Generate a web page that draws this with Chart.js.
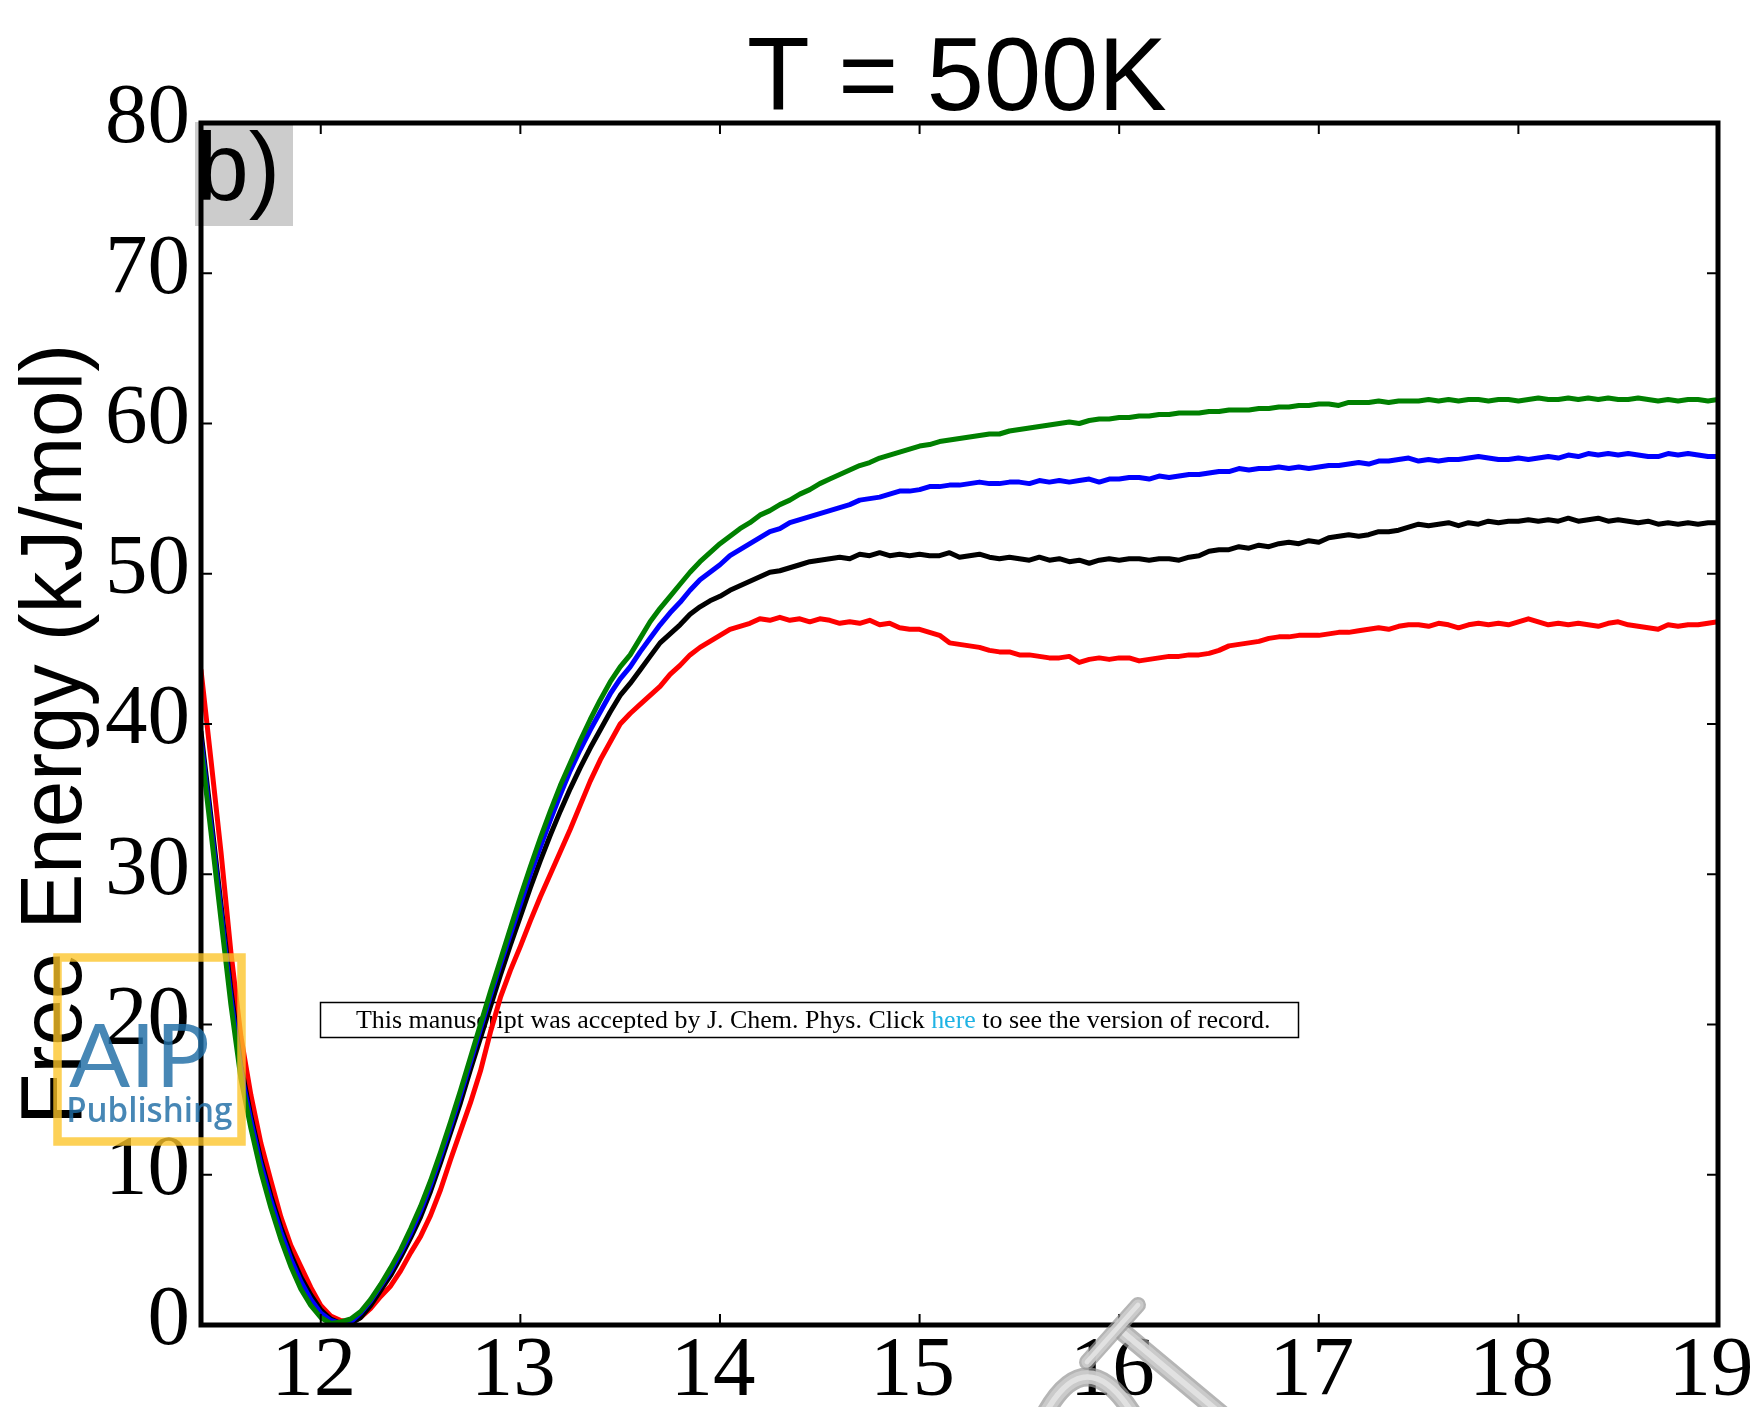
<!DOCTYPE html>
<html>
<head>
<meta charset="utf-8">
<title>Free energy profile, T = 500K</title>
<script src="https://cdn.jsdelivr.net/npm/chart.js@4.4.1/dist/chart.umd.min.js"></script>
<style>
  html, body { margin: 0; padding: 0; background: #ffffff; }
  canvas { display: block; }
</style>
</head>
<body>
<canvas id="fe" width="1753" height="1407"></canvas>
<script>
// Sampling grid of the reaction coordinate: 11.40 .. 19.00 in steps of 0.05
const X_START = 11.4;
const X_STEP = 0.05;

const xTicks = [12, 13, 14, 15, 16, 17, 18, 19];
const yTicks = [0, 10, 20, 30, 40, 50, 60, 70, 80];

// Free energy (kJ/mol) of the four runs, one value per grid point
const greenFE = [
  38.5, 32.8, 27.0, 21.3, 16.4, 13.1, 10.2, 7.8, 5.7, 3.9,
  2.4, 1.3, 0.5, 0.1, 0.2, 0.4, 0.9, 1.7, 2.7, 3.8,
  5.0, 6.4, 7.9, 9.6, 11.5, 13.5, 15.6, 17.8, 20.0, 22.2,
  24.3, 26.4, 28.5, 30.5, 32.4, 34.2, 35.9, 37.4, 38.9, 40.3,
  41.6, 42.8, 43.8, 44.6, 45.7, 46.8, 47.7, 48.5, 49.3, 50.1,
  50.8, 51.4, 52.0, 52.5, 53.0, 53.4, 53.9, 54.2, 54.6, 54.9,
  55.3, 55.6, 56.0, 56.3, 56.6, 56.9, 57.2, 57.4, 57.7, 57.9,
  58.1, 58.3, 58.5, 58.6, 58.8, 58.9, 59.0, 59.1, 59.2, 59.3,
  59.3, 59.5, 59.6, 59.7, 59.8, 59.9, 60.0, 60.1, 60.0, 60.2,
  60.3, 60.3, 60.4, 60.4, 60.5, 60.5, 60.6, 60.6, 60.7, 60.7,
  60.7, 60.8, 60.8, 60.9, 60.9, 60.9, 61.0, 61.0, 61.1, 61.1,
  61.2, 61.2, 61.3, 61.3, 61.2, 61.4, 61.4, 61.4, 61.5, 61.4,
  61.5, 61.5, 61.5, 61.6, 61.5, 61.6, 61.5, 61.6, 61.6, 61.5,
  61.6, 61.6, 61.5, 61.6, 61.7, 61.6, 61.6, 61.7, 61.6, 61.7,
  61.6, 61.7, 61.6, 61.6, 61.7, 61.6, 61.5, 61.6, 61.5, 61.6,
  61.6, 61.5, 61.6
];

const blueFE = [
  39.0, 33.3, 27.5, 21.8, 16.9, 13.6, 10.7, 8.3, 6.2, 4.4,
  2.9, 1.7, 0.8, 0.3, 0.1, 0.2, 0.8, 1.6, 2.6, 3.6,
  4.8, 6.1, 7.6, 9.3, 11.2, 13.2, 15.3, 17.5, 19.7, 21.9,
  24.0, 26.0, 28.0, 30.0, 31.8, 33.6, 35.3, 36.9, 38.3, 39.6,
  40.8, 42.0, 43.0, 43.8, 44.8, 45.7, 46.6, 47.4, 48.1, 48.9,
  49.6, 50.1, 50.6, 51.2, 51.6, 52.0, 52.4, 52.8, 53.0, 53.4,
  53.6, 53.8, 54.0, 54.2, 54.4, 54.6, 54.9, 55.0, 55.1, 55.3,
  55.5, 55.5, 55.6, 55.8, 55.8, 55.9, 55.9, 56.0, 56.1, 56.0,
  56.0, 56.1, 56.1, 56.0, 56.2, 56.1, 56.2, 56.1, 56.2, 56.3,
  56.1, 56.3, 56.3, 56.4, 56.4, 56.3, 56.5, 56.4, 56.5, 56.6,
  56.6, 56.7, 56.8, 56.8, 57.0, 56.9, 57.0, 57.0, 57.1, 57.0,
  57.1, 57.0, 57.1, 57.2, 57.2, 57.3, 57.4, 57.3, 57.5, 57.5,
  57.6, 57.7, 57.5, 57.6, 57.5, 57.6, 57.6, 57.7, 57.8, 57.7,
  57.6, 57.6, 57.7, 57.6, 57.7, 57.8, 57.7, 57.9, 57.8, 58.0,
  57.9, 58.0, 57.9, 58.0, 57.9, 57.8, 57.8, 58.0, 57.9, 58.0,
  57.9, 57.8, 57.8
];

const blackFE = [
  39.5, 33.8, 28.0, 22.3, 17.3, 13.9, 11.0, 8.6, 6.5, 4.7,
  3.2, 2.0, 1.0, 0.4, 0.1, 0.1, 0.5, 1.3, 2.3, 3.3,
  4.5, 5.8, 7.2, 8.9, 10.8, 12.8, 14.8, 17.0, 19.1, 21.2,
  23.3, 25.3, 27.2, 29.1, 30.9, 32.6, 34.2, 35.7, 37.1, 38.4,
  39.6, 40.8, 41.9, 42.7, 43.6, 44.5, 45.4, 46.0, 46.6, 47.3,
  47.8, 48.2, 48.5, 48.9, 49.2, 49.5, 49.8, 50.1, 50.2, 50.4,
  50.6, 50.8, 50.9, 51.0, 51.1, 51.0, 51.3, 51.2, 51.4, 51.2,
  51.3, 51.2, 51.3, 51.2, 51.2, 51.4, 51.1, 51.2, 51.3, 51.1,
  51.0, 51.1, 51.0, 50.9, 51.1, 50.9, 51.0, 50.8, 50.9, 50.7,
  50.9, 51.0, 50.9, 51.0, 51.0, 50.9, 51.0, 51.0, 50.9, 51.1,
  51.2, 51.5, 51.6, 51.6, 51.8, 51.7, 51.9, 51.8, 52.0, 52.1,
  52.0, 52.2, 52.1, 52.4, 52.5, 52.6, 52.5, 52.6, 52.8, 52.8,
  52.9, 53.1, 53.3, 53.2, 53.3, 53.4, 53.2, 53.4, 53.3, 53.5,
  53.4, 53.5, 53.5, 53.6, 53.5, 53.6, 53.5, 53.7, 53.5, 53.6,
  53.7, 53.5, 53.6, 53.5, 53.4, 53.5, 53.3, 53.4, 53.3, 53.4,
  53.3, 53.4, 53.4
];

const redFE = [
  43.6, 37.6, 31.5, 24.8, 19.2, 15.3, 12.1, 9.6, 7.2, 5.3,
  3.9, 2.5, 1.3, 0.6, 0.3, 0.2, 0.5, 1.1, 1.9, 2.6,
  3.6, 4.8, 5.9, 7.3, 9.0, 11.0, 12.9, 14.8, 16.9, 19.5,
  21.8, 23.6, 25.2, 26.9, 28.5, 30.0, 31.5, 33.0, 34.6, 36.2,
  37.6, 38.8, 40.0, 40.7, 41.3, 41.9, 42.5, 43.3, 43.9, 44.6,
  45.1, 45.5, 45.9, 46.3, 46.5, 46.7, 47.0, 46.9, 47.1, 46.9,
  47.0, 46.8, 47.0, 46.9, 46.7, 46.8, 46.7, 46.9, 46.6, 46.7,
  46.4, 46.3, 46.3, 46.1, 45.9, 45.4, 45.3, 45.2, 45.1, 44.9,
  44.8, 44.8, 44.6, 44.6, 44.5, 44.4, 44.4, 44.5, 44.1, 44.3,
  44.4, 44.3, 44.4, 44.4, 44.2, 44.3, 44.4, 44.5, 44.5, 44.6,
  44.6, 44.7, 44.9, 45.2, 45.3, 45.4, 45.5, 45.7, 45.8, 45.8,
  45.9, 45.9, 45.9, 46.0, 46.1, 46.1, 46.2, 46.3, 46.4, 46.3,
  46.5, 46.6, 46.6, 46.5, 46.7, 46.6, 46.4, 46.6, 46.7, 46.6,
  46.7, 46.6, 46.8, 47.0, 46.8, 46.6, 46.7, 46.6, 46.7, 46.6,
  46.5, 46.7, 46.8, 46.6, 46.5, 46.4, 46.3, 46.6, 46.5, 46.6,
  46.6, 46.7, 46.8
];

const xGrid = greenFE.map((_, i) => +(X_START + i * X_STEP).toFixed(2));
const asPoints = vals => vals.map((v, i) => ({ x: xGrid[i], y: v }));

const SERIF = '"Liberation Serif", "Times New Roman", serif';
const SANS = '"Liberation Sans", Arial, Helvetica, sans-serif';

// Draw text so that its inked extent spans exactly `extent` px from `left`
function fitGlyphs(ctx, text, left, baseline, extent) {
  ctx.textAlign = 'left';
  ctx.textBaseline = 'alphabetic';
  const m = ctx.measureText(text);
  const w = m.actualBoundingBoxLeft + m.actualBoundingBoxRight;
  ctx.save();
  ctx.translate(left, baseline);
  ctx.scale(extent / w, 1);
  ctx.fillText(text, m.actualBoundingBoxLeft, 0);
  ctx.restore();
}

// Notice banner that sits underneath the curves
function drawNotice(ctx) {
  ctx.save();
  ctx.fillStyle = '#ffffff';
  ctx.fillRect(320.5, 1002.5, 978, 35);
  ctx.strokeStyle = '#000000';
  ctx.lineWidth = 1.5;
  ctx.strokeRect(320.5, 1002.5, 978, 35);
  const parts = [
    ['This manuscript was accepted by J. Chem. Phys. Click ', '#000000'],
    ['here', '#1fb3e4'],
    [' to see the version of record.', '#000000']
  ];
  ctx.font = '26px ' + SERIF;
  ctx.textAlign = 'left';
  ctx.textBaseline = 'alphabetic';
  const full = parts.map(p => p[0]).join('');
  const m = ctx.measureText(full);
  const k = 913 / (m.actualBoundingBoxLeft + m.actualBoundingBoxRight);
  ctx.translate(356, 1028);
  ctx.scale(k, 1);
  let cx = m.actualBoundingBoxLeft;
  for (const [t, c] of parts) {
    ctx.fillStyle = c;
    ctx.fillText(t, cx, 0);
    cx += ctx.measureText(t).width;
  }
  ctx.restore();
}

// Publisher mark at the lower left
function drawLogo(ctx) {
  ctx.save();
  ctx.strokeStyle = 'rgba(252, 196, 40, 0.78)';
  ctx.lineWidth = 8.5;
  ctx.strokeRect(57.5, 957.5, 184, 184);
  ctx.fillStyle = 'rgba(30, 108, 165, 0.82)';
  ctx.font = '400 88px Lato, "Open Sans", sans-serif';
  fitGlyphs(ctx, 'AIP', 69, 1087, 139);
  ctx.font = '600 35px "Open Sans", Lato, sans-serif';
  fitGlyphs(ctx, 'Publishing', 69, 1122, 163);
  ctx.restore();
}

// Grey rods of the molecular mark along the bottom edge
function drawRods(ctx) {
  const rod = (pts, w, quad) => {
    const path = () => {
      ctx.beginPath();
      ctx.moveTo(pts[0][0], pts[0][1]);
      if (quad) ctx.quadraticCurveTo(pts[1][0], pts[1][1], pts[2][0], pts[2][1]);
      else ctx.lineTo(pts[1][0], pts[1][1]);
    };
    path();
    ctx.lineWidth = w;
    ctx.strokeStyle = 'rgba(150, 150, 150, 0.7)';
    ctx.stroke();
    ctx.lineWidth = w * 0.7;
    ctx.strokeStyle = 'rgba(205, 205, 205, 0.9)';
    ctx.stroke();
    ctx.lineWidth = w * 0.3;
    ctx.strokeStyle = 'rgba(228, 228, 228, 0.9)';
    ctx.stroke();
  };
  ctx.save();
  ctx.lineCap = 'round';
  rod([[1045, 1414], [1086, 1340], [1133, 1414]], 19, true);
  rod([[1124, 1333], [1226, 1418]], 19, false);
  rod([[1138, 1305], [1087, 1362]], 16, false);
  ctx.restore();
}

const decorations = {
  id: 'decorations',
  beforeDatasetsDraw(chart) {
    drawNotice(chart.ctx);
  },
  afterDatasetsDraw(chart) {
    const { ctx, chartArea: a, scales } = chart;
    const tick = 11;
    ctx.save();
    ctx.strokeStyle = '#000000';
    ctx.lineWidth = 2;
    ctx.beginPath();
    for (const v of xTicks) {
      const px = scales.x.getPixelForValue(v);
      ctx.moveTo(px, a.bottom); ctx.lineTo(px, a.bottom - tick);
      ctx.moveTo(px, a.top); ctx.lineTo(px, a.top + tick);
    }
    for (const v of yTicks) {
      const py = scales.y.getPixelForValue(v);
      ctx.moveTo(a.left, py); ctx.lineTo(a.left + tick, py);
      ctx.moveTo(a.right, py); ctx.lineTo(a.right - tick, py);
    }
    ctx.stroke();
    ctx.lineWidth = 5;
    ctx.strokeRect(a.left, a.top, a.right - a.left, a.bottom - a.top);
    ctx.restore();
  },
  afterDraw(chart) {
    const ctx = chart.ctx;
    ctx.save();
    ctx.fillStyle = '#000000';

    // Title
    ctx.font = '103px ' + SANS;
    fitGlyphs(ctx, 'T = 500K', 749, 110, 417);

    // Vertical axis title
    ctx.save();
    ctx.translate(81, 1118);
    ctx.rotate(-Math.PI / 2);
    ctx.font = '88px ' + SANS;
    fitGlyphs(ctx, 'Free Energy (kJ/mol)', 0, 0, 769);
    ctx.restore();

    // Panel tag
    ctx.fillStyle = 'rgba(0, 0, 0, 0.2)';
    ctx.fillRect(195, 122, 98, 104);
    ctx.fillStyle = '#000000';
    ctx.font = '97px ' + SANS;
    fitGlyphs(ctx, 'b)', 202, 200, 73);
    ctx.restore();

    drawLogo(ctx);
    drawRods(ctx);
  }
};

new Chart(document.getElementById('fe'), {
  type: 'line',
  data: {
    datasets: [
      { label: 'green', data: asPoints(greenFE), borderColor: '#008000' },
      { label: 'blue', data: asPoints(blueFE), borderColor: '#0000ff' },
      { label: 'black', data: asPoints(blackFE), borderColor: '#000000' },
      { label: 'red', data: asPoints(redFE), borderColor: '#ff0000' }
    ]
  },
  options: {
    responsive: false,
    animation: false,
    devicePixelRatio: 1,
    events: [],
    datasets: {
      line: { borderWidth: 5, pointRadius: 0, tension: 0, fill: false, borderJoinStyle: 'round', borderCapStyle: 'round' }
    },
    layout: { padding: { left: 0, right: 35, top: 123, bottom: 0 } },
    plugins: {
      legend: { display: false },
      tooltip: { enabled: false },
      title: { display: false }
    },
    scales: {
      x: {
        type: 'linear',
        min: 11.4,
        max: 19,
        grid: { display: false, drawTicks: false },
        border: { display: false },
        ticks: {
          font: { family: SERIF, size: 85 },
          color: '#000000',
          padding: -3,
          labelOffset: -7,
          maxRotation: 0,
          minRotation: 0,
          autoSkip: false
        },
        afterBuildTicks: s => { s.ticks = xTicks.map(v => ({ value: v })); },
        afterFit: s => { s.height = 82; s.paddingLeft = 0; s.paddingRight = 0; }
      },
      y: {
        type: 'linear',
        min: 0,
        max: 80,
        grid: { display: false, drawTicks: false },
        border: { display: false },
        ticks: {
          font: { family: SERIF, size: 85 },
          color: '#000000',
          padding: 11,
          labelOffset: -3,
          autoSkip: false
        },
        afterBuildTicks: s => { s.ticks = yTicks.map(v => ({ value: v })); },
        afterFit: s => { s.width = 201; s.paddingTop = 0; s.paddingBottom = 0; }
      }
    }
  },
  plugins: [decorations]
});
</script>
</body>
</html>
